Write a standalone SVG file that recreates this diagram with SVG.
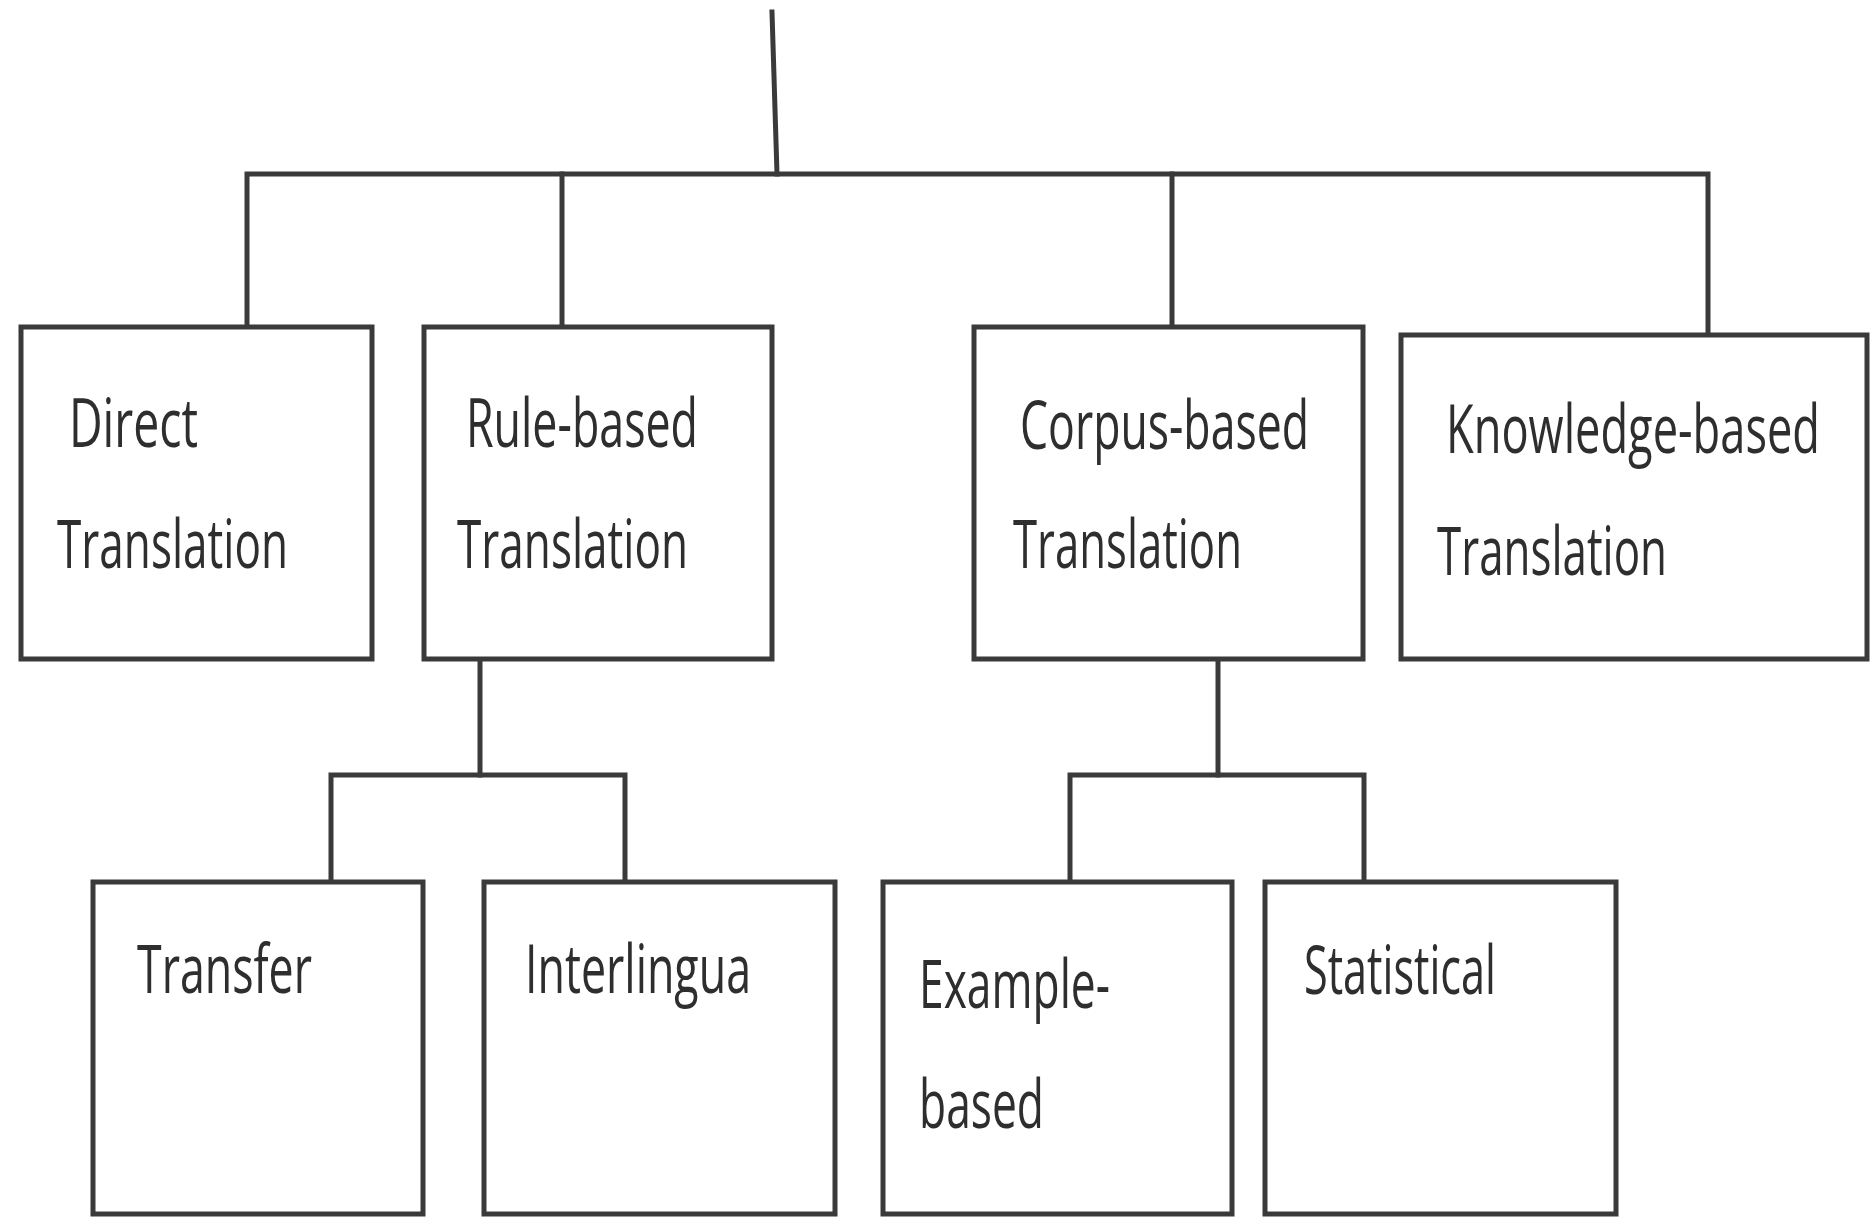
<svg xmlns="http://www.w3.org/2000/svg" width="1876" height="1218" viewBox="0 0 1876 1218">
<style>
.box{fill:#ffffff;stroke:#3a3a3a;stroke-width:5}
.ln{fill:none;stroke:#3a3a3a;stroke-width:5;stroke-linecap:square}
.t{font-family:"Open Sans","Noto Sans",sans-serif;font-size:68px;fill:#2e2e2e}
</style>
<rect width="1876" height="1218" fill="#ffffff"/>
<g id="connectors">
<path class="ln" d="M772 12 L777 174"/>
<path class="ln" d="M247 327 L247 174 L1708 174 L1708 335"/>
<path class="ln" d="M562 174 L562 327"/>
<path class="ln" d="M1172 174 L1172 327"/>
<path class="ln" d="M480 659 L480 775"/>
<path class="ln" d="M331 882 L331 775 L625 775 L625 882"/>
<path class="ln" d="M1218 659 L1218 775"/>
<path class="ln" d="M1070 882 L1070 775 L1364 775 L1364 882"/>
</g>
<g id="direct">
<rect class="box" x="21" y="327" width="351" height="332"/>
<text class="t" x="69" y="447" textLength="129" lengthAdjust="spacingAndGlyphs">Direct</text>
<text class="t" x="57" y="568" textLength="231" lengthAdjust="spacingAndGlyphs">Translation</text>
</g>
<g id="rule-based">
<rect class="box" x="424" y="327" width="348" height="332"/>
<text class="t" x="466" y="447" textLength="232" lengthAdjust="spacingAndGlyphs">Rule-based</text>
<text class="t" x="457" y="568" textLength="231" lengthAdjust="spacingAndGlyphs">Translation</text>
</g>
<g id="corpus-based">
<rect class="box" x="974" y="327" width="389" height="332"/>
<text class="t" x="1020" y="449" textLength="289" lengthAdjust="spacingAndGlyphs">Corpus-based</text>
<text class="t" x="1013" y="568" textLength="229" lengthAdjust="spacingAndGlyphs">Translation</text>
</g>
<g id="knowledge-based">
<rect class="box" x="1401" y="335" width="466" height="324"/>
<text class="t" x="1446" y="453" textLength="374" lengthAdjust="spacingAndGlyphs">Knowledge-based</text>
<text class="t" x="1437" y="575" textLength="230" lengthAdjust="spacingAndGlyphs">Translation</text>
</g>
<g id="transfer">
<rect class="box" x="93" y="882" width="330" height="332"/>
<text class="t" x="137" y="993" textLength="175" lengthAdjust="spacingAndGlyphs">Transfer</text>
</g>
<g id="interlingua">
<rect class="box" x="484" y="882" width="351" height="332"/>
<text class="t" x="525" y="993" textLength="226" lengthAdjust="spacingAndGlyphs">Interlingua</text>
</g>
<g id="example-based">
<rect class="box" x="883" y="882" width="349" height="332"/>
<text class="t" x="919" y="1008" textLength="191" lengthAdjust="spacingAndGlyphs">Example-</text>
<text class="t" x="919" y="1128" textLength="125" lengthAdjust="spacingAndGlyphs">based</text>
</g>
<g id="statistical">
<rect class="box" x="1265" y="882" width="351" height="332"/>
<text class="t" x="1304" y="994" textLength="192" lengthAdjust="spacingAndGlyphs">Statistical</text>
</g>
</svg>
